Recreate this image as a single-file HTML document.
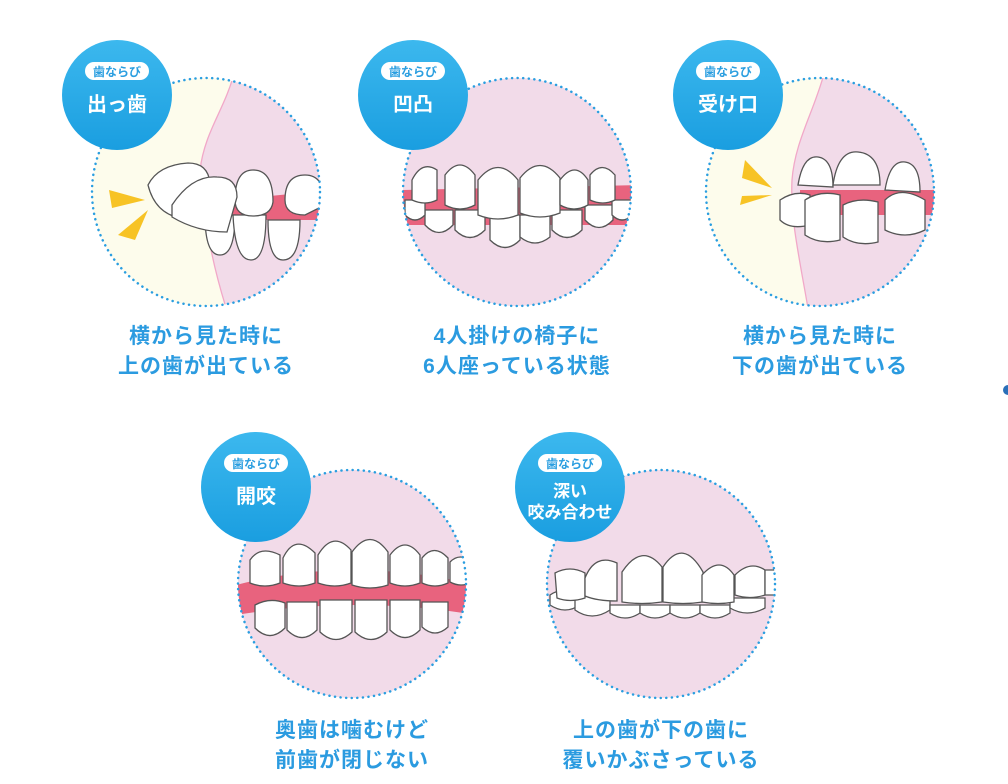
<!DOCTYPE html>
<html><head><meta charset="utf-8"><style>
body{margin:0;background:#fff;width:1008px;height:784px;overflow:hidden;position:relative;font-family:"Liberation Sans","Noto Sans CJK JP",sans-serif}
.lbl{position:absolute;width:300px;text-align:center;color:#2b9be0;font-weight:bold;font-size:21px;line-height:30px;letter-spacing:1px}
</style></head><body>
<svg width="1008" height="784" style="position:absolute;left:0;top:0">
<defs>
<clipPath id="c1"><circle cx="206" cy="192" r="114"/></clipPath>
<clipPath id="c2"><circle cx="517" cy="192" r="114"/></clipPath>
<clipPath id="c3"><circle cx="820" cy="192" r="114"/></clipPath>
<clipPath id="c4"><circle cx="352" cy="584" r="114"/></clipPath>
<clipPath id="c5"><circle cx="661" cy="584" r="114"/></clipPath>
<linearGradient id="bg" x1="0" y1="0" x2="0" y2="1"><stop offset="0" stop-color="#3cb8ee"/><stop offset="1" stop-color="#1a9ee0"/></linearGradient>
</defs>
<g stroke="#555" stroke-width="1.3" fill="#fff">
<!-- circle 1 -->
<g clip-path="url(#c1)">
<rect x="90" y="76" width="240" height="240" fill="#fdfcec" stroke="none"/>
<path d="M235 70 C225 110 205 130 200 170 C205 220 210 260 230 320 L330 320 L330 70Z" fill="#f2dbe9" stroke="#f1a8c8"/>
<path d="M230 200 L330 190 L330 220 L230 220Z" fill="#e8637e" stroke="none"/>
<path d="M205 215 q0 40 15 40 q15 0 15-40z"/><path d="M233 215 q2 45 18 45 q15 0 15-45z"/><path d="M268 220 q0 40 15 40 q17 0 17-40z"/>
<path d="M235 200 q0-30 18-30 q20 0 20 32 q-2 14-20 14 q-18 0-18-16z"/>
<path d="M285 200 q0-25 20-25 q20 0 20 30 l-20 10 q-20 0-20-15z"/>
<path d="M148 185 q10-20 40-22 q20 0 22 20 q-10 25-30 35 q-25-5-32-33z"/>
<path d="M172 205 q20-30 45-28 q20 0 20 20 l-10 35 q-30 0-55-15z"/>
</g>
<!-- circle 2 -->
<g clip-path="url(#c2)">
<rect x="400" y="76" width="240" height="240" fill="#f2dbe9" stroke="none"/>
<path d="M400 190 L640 185 L640 225 L400 225Z" fill="#e8637e" stroke="none"/>
<path d="M425 210 h28 v15 q-14 15-28 0z"/><path d="M455 210 h30 v20 q-15 15-30 0z"/><path d="M490 215 h30 v25 q-15 15-30 0z"/><path d="M520 215 h30 v22 q-15 12-30 0z"/><path d="M552 210 h30 v20 q-15 15-30 0z"/><path d="M585 205 h28 v15 q-14 15-28 0z"/><path d="M405 200 h20 v15 q-10 10-20 0z"/><path d="M612 200 h20 v15 q-10 10-20 0z"/>
<path d="M412 180 q10-20 25-10 v30 q-12 6-25 0z"/><path d="M445 175 q15-20 30 0 v30 q-15 8-30 0z"/><path d="M478 180 q20-25 40 0 v35 q-20 8-40 0z"/><path d="M520 178 q20-25 40 0 v35 q-20 8-40 0z"/><path d="M560 180 q15-20 28 0 v25 q-14 8-28 0z"/><path d="M590 175 q12-15 25 0 v25 q-12 6-25 0z"/>
</g>
<!-- circle 3 -->
<g clip-path="url(#c3)">
<rect x="700" y="76" width="240" height="240" fill="#fdfcec" stroke="none"/>
<path d="M825 70 C815 110 795 140 792 180 C790 220 800 260 810 320 L940 320 L940 70Z" fill="#f2dbe9" stroke="#f1a8c8"/>
<path d="M800 190 L940 190 L940 215 L800 215Z" fill="#e8637e" stroke="none"/>
<path d="M798 185 q5-30 20-28 q15 2 15 30z"/><path d="M833 185 q5-35 25-33 q22 2 22 33z"/><path d="M885 190 q5-30 20-28 q15 2 15 30z"/>
<path d="M780 200 q15-10 30-5 v30 q-20 5-30-5z"/><path d="M805 200 q15-10 35-5 v45 q-20 5-35-5z"/><path d="M843 205 q15-8 35-3 v40 q-20 5-35-5z"/><path d="M885 200 q15-15 40 0 v30 q-20 10-40 0z"/>
</g>
<!-- circle 4 -->
<g clip-path="url(#c4)">
<rect x="236" y="468" width="240" height="240" fill="#f2dbe9" stroke="none"/>
<path d="M236 585 q116-30 240 0 v30 q-120-20-240 0z" fill="#e8637e" stroke="none"/>
<path d="M250 560 q10-15 30-5 v28 q-15 6-30 0z"/><path d="M283 558 q12-25 32-5 v30 q-16 6-32 0z"/><path d="M318 555 q15-25 33-5 v33 q-16 6-33 0z"/><path d="M352 552 q18-25 36 0 v33 q-18 6-36 0z"/><path d="M390 555 q15-20 30 0 v28 q-15 6-30 0z"/><path d="M422 558 q12-15 26 0 v25 q-13 6-26 0z"/><path d="M450 562 q10-10 22 0 v20 q-11 6-22 0z"/>
<path d="M255 605 q15-8 30-2 v25 q-15 15-30 0z"/><path d="M287 602 h30 v28 q-15 15-30 0z"/><path d="M320 600 h32 v32 q-16 15-32 0z"/><path d="M355 600 h32 v32 q-16 15-32 0z"/><path d="M390 600 h30 v30 q-15 15-30 0z"/><path d="M422 602 h26 v25 q-13 12-26 0z"/>
</g>
<!-- circle 5 -->
<g clip-path="url(#c5)">
<rect x="545" y="468" width="240" height="240" fill="#f2dbe9" stroke="none"/>
<path d="M550 595 q15-10 30 0 v10 q-15 10-30 0z"/><path d="M575 600 q20-10 35 0 v10 q-18 12-35 0z"/><path d="M610 605 h30 v8 q-15 10-30 0z"/><path d="M640 605 h30 v8 q-15 10-30 0z"/><path d="M670 605 h30 v8 q-15 10-30 0z"/><path d="M700 605 h30 v8 q-15 10-30 0z"/><path d="M730 598 h35 v10 q-18 10-35 0z"/>
<path d="M555 573 q15-8 30 0 v25 q-15 5-28 0z"/><path d="M585 578 q10-25 32-15 v38 q-20 0-32-5z"/><path d="M622 572 q20-30 40-5 v35 q-20 3-40 0z"/><path d="M663 567 q20-30 40 5 v30 q-20 3-40 0z"/><path d="M702 575 q18-20 32 0 v27 q-16 3-32 0z"/><path d="M735 575 q15-15 30-5 v25 q-15 5-30 0z"/><path d="M765 570 h15 v25 h-15z"/>
</g>
</g>
<!-- yellow marks -->
<path d="M109 190 L145 200 L112 208Z" fill="#f7c325"/><path d="M118 235 L148 210 L135 240Z" fill="#f7c325"/>
<path d="M745 160 L772 188 L742 178Z" fill="#f7c325"/><path d="M740 205 L772 195 L742 196Z" fill="#f7c325"/>
<g fill="none" stroke="#2a9ee0" stroke-width="2.5" stroke-dasharray="0.1 5.5" stroke-linecap="round">
<circle cx="206" cy="192" r="114"/><circle cx="517" cy="192" r="114"/><circle cx="820" cy="192" r="114"/><circle cx="352" cy="584" r="114"/><circle cx="661" cy="584" r="114"/>
</g>
<g fill="url(#bg)"><circle cx="117" cy="95" r="55"/><circle cx="413" cy="95" r="55"/><circle cx="728" cy="95" r="55"/><circle cx="256" cy="487" r="55"/><circle cx="570" cy="487" r="55"/></g>
<g fill="#fff"><rect x="85" y="62" width="64" height="18" rx="9"/><rect x="381" y="62" width="64" height="18" rx="9"/><rect x="696" y="62" width="64" height="18" rx="9"/><rect x="224" y="454" width="64" height="18" rx="9"/><rect x="538" y="454" width="64" height="18" rx="9"/></g>
<g font-family="Liberation Sans, Noto Sans CJK JP, sans-serif" font-weight="bold" text-anchor="middle">
<g fill="#2a9ee0" font-size="12"><text x="117" y="76">歯ならび</text><text x="413" y="76">歯ならび</text><text x="728" y="76">歯ならび</text><text x="256" y="468">歯ならび</text><text x="570" y="468">歯ならび</text></g>
<g fill="#fff" font-size="20"><text x="117" y="111">出っ歯</text><text x="413" y="111">凹凸</text><text x="728" y="111">受け口</text><text x="256" y="503">開咬</text><text x="570" y="497" font-size="17">深い</text><text x="570" y="518" font-size="17">咬み合わせ</text></g>
</g>
<circle cx="1008" cy="390" r="5" fill="#2a6fb8"/>
</svg>
<div class="lbl" style="left:56px;top:322px">横から見た時に<br>上の歯が出ている</div>
<div class="lbl" style="left:367px;top:322px">4人掛けの椅子に<br>6人座っている状態</div>
<div class="lbl" style="left:670px;top:322px">横から見た時に<br>下の歯が出ている</div>
<div class="lbl" style="left:202px;top:716px">奥歯は噛むけど<br>前歯が閉じない</div>
<div class="lbl" style="left:511px;top:716px">上の歯が下の歯に<br>覆いかぶさっている</div>
</body></html>
